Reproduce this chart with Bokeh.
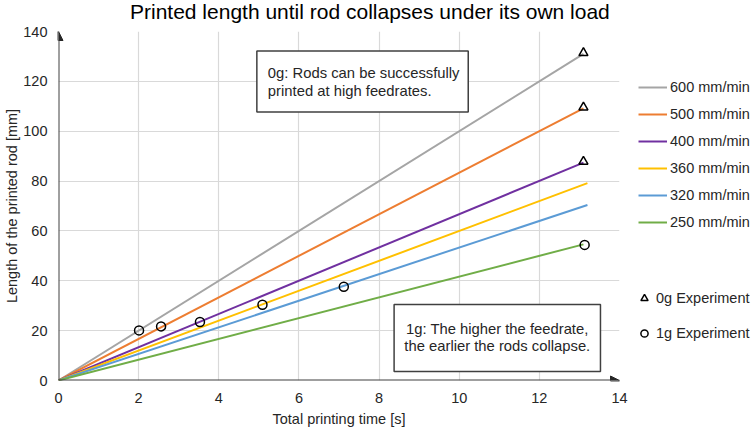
from bokeh.plotting import figure
from bokeh.layouts import row, column
from bokeh.models import (Range1d, FixedTicker, Legend, LegendItem, Label,
                          BoxAnnotation, Arrow, NormalHead, Div)
from bokeh.embed import file_html
from bokeh.resources import INLINE

# ---- data ----
title_text = "Printed length until rod collapses under its own load"
series_names = ["600 mm/min", "500 mm/min", "400 mm/min", "360 mm/min", "320 mm/min", "250 mm/min"]
series_colors = ["#a5a5a5", "#ed7d31", "#7030a0", "#ffc000", "#5b9bd5", "#70ad47"]
line_end_time = [13.1, 13.1, 13.1, 13.2, 13.2, 13.1]
line_end_length = [131.0, 109.2, 87.4, 79.2, 70.4, 54.6]

exp0g_time = [13.1, 13.1, 13.1]
exp0g_length = [131.4, 109.6, 87.8]

exp1g_time = [2.01, 2.56, 3.53, 5.09, 7.12, 13.13]
exp1g_length = [20.1, 21.7, 23.5, 30.4, 37.6, 54.4]

x_ticks = [0, 2, 4, 6, 8, 10, 12, 14]
y_ticks = [0, 20, 40, 60, 80, 100, 120, 140]

FONT = "Liberation Sans"
TXT = "#262626"

# ---- title strip ----
head = Div(text=('<div style="font-family:\'Liberation Sans\';font-size:21px;line-height:23px;'
                 'margin:0 0 0 130px;padding:0;white-space:nowrap;color:black">'
                 + title_text + '</div>'),
           width=754, height=23, margin=(0, 0, 0, 0))

# ---- main chart ----
p = figure(width=632, height=406, output_backend="svg", toolbar_location=None, title=None,
           x_range=Range1d(0, 14), y_range=Range1d(0, 140),
           min_border_left=58, min_border_right=13, min_border_top=8, min_border_bottom=49)
p.outline_line_color = None

for ax in (p.xaxis[0], p.yaxis[0]):
    ax.axis_line_color = None
    ax.major_tick_line_color = None
    ax.minor_tick_line_color = None
    ax.major_tick_out = 0
    ax.major_tick_in = 0
    ax.minor_tick_out = 0
    ax.minor_tick_in = 0
    ax.major_label_text_font = FONT
    ax.major_label_text_font_size = "14.5px"
    ax.major_label_text_color = TXT
    ax.axis_label_text_font = FONT
    ax.axis_label_text_font_size = "14.5px"
    ax.axis_label_text_font_style = "normal"
    ax.axis_label_text_color = TXT
p.xaxis[0].ticker = FixedTicker(ticks=x_ticks)
p.yaxis[0].ticker = FixedTicker(ticks=y_ticks)
p.xaxis[0].major_label_standoff = 12
p.yaxis[0].major_label_standoff = 11
p.xaxis[0].axis_label = "Total printing time [s]"
p.yaxis[0].axis_label = "Length of the printed rod [mm]"
p.xaxis[0].axis_label_standoff = 5
p.yaxis[0].axis_label_standoff = 0

for g in (p.xgrid[0], p.ygrid[0]):
    g.grid_line_color = "#d9d9d9"
    g.grid_line_width = 1.2
p.xgrid[0].ticker = FixedTicker(ticks=x_ticks)
p.ygrid[0].ticker = FixedTicker(ticks=y_ticks)

# axis arrows
p.add_layout(Arrow(end=NormalHead(size=9, fill_color=TXT, line_color=TXT),
                   x_start=0, y_start=0, x_end=0, y_end=140,
                   line_color="#404040", line_width=2))
p.add_layout(Arrow(end=NormalHead(size=9, fill_color=TXT, line_color=TXT),
                   x_start=0, y_start=0, x_end=14, y_end=0,
                   line_color="#404040", line_width=2))

for col, tx, ly in zip(series_colors, line_end_time, line_end_length):
    p.line(x=[0, tx], y=[0, ly], line_color=col, line_width=2)

p.scatter(x=exp0g_time, y=exp0g_length, marker="triangle", size=9,
          fill_color=None, line_color="black", line_width=1.5)
p.scatter(x=exp1g_time, y=exp1g_length, marker="circle", size=9,
          fill_color=None, line_color="black", line_width=1.5)

# annotation boxes
p.add_layout(BoxAnnotation(left=4.95, right=10.225, bottom=107.7, top=132.2,
                           fill_color="white", fill_alpha=1.0,
                           line_color="#404040", line_width=1.5, line_alpha=1.0))
p.add_layout(BoxAnnotation(left=8.375, right=13.525, bottom=3.6, top=30.5,
                           fill_color="white", fill_alpha=1.0,
                           line_color="#404040", line_width=1.5, line_alpha=1.0))

def lab(x, y, text, align="left"):
    p.add_layout(Label(x=x, y=y, text=text, text_font=FONT, text_font_size="14.8px",
                       text_align=align, text_baseline="middle", text_color=TXT))

lab(5.225, 123.4, "0g: Rods can be successfully")
lab(5.225, 116.2, "printed at high feedrates.")
lab(10.95, 20.5, "1g: The higher the feedrate,", align="center")
lab(10.95, 13.7, "the earlier the rods collapse.", align="center")

# ---- legend canvas to the right of the chart (same series, kept out of its view) ----
q = figure(width=122, height=406, output_backend="svg", toolbar_location=None,
           x_range=Range1d(-3, -2), y_range=Range1d(-3, -2), title=None,
           x_axis_location=None, y_axis_location=None,
           min_border_left=0, min_border_right=0, min_border_top=8, min_border_bottom=49)
q.outline_line_color = None
q.xgrid.visible = False
q.ygrid.visible = False

line_items = []
for name, col, tx, ly in zip(series_names, series_colors, line_end_time, line_end_length):
    r = q.line(x=[0, tx], y=[0, ly], line_color=col, line_width=2)
    line_items.append(LegendItem(label=name, renderers=[r]))
q0 = q.scatter(x=exp0g_time, y=exp0g_length, marker="triangle",
               fill_color=None, line_color="black", line_width=1.5)
q1 = q.scatter(x=exp1g_time, y=exp1g_length, marker="circle",
               fill_color=None, line_color="black", line_width=1.5)

common = dict(orientation="vertical", glyph_height=20, label_height=20,
              label_standoff=3, padding=0, margin=0, border_line_color=None,
              background_fill_alpha=0, label_text_font=FONT,
              label_text_font_size="14.5px", label_text_color=TXT)
legA = Legend(items=line_items, location=(6, 148), glyph_width=29, spacing=7, **common)
legB = Legend(items=[LegendItem(label="0g Experiment", renderers=[q0]),
                     LegendItem(label="1g Experiment", renderers=[q1])],
              location=(3, 37), glyph_width=18, spacing=15, **common)
q.add_layout(legA, "center")
q.add_layout(legB, "center")

layout = column(head, row(p, q))
open("out.html", "w").write(file_html(layout, INLINE))
